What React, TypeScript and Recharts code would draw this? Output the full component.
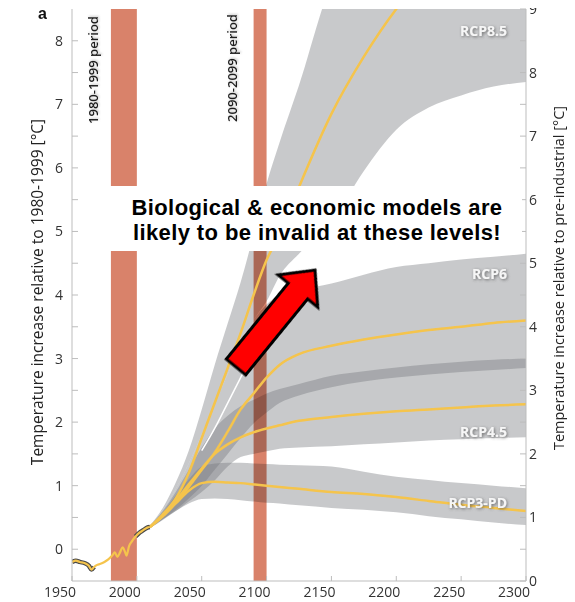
import React from 'react'
import {
  ComposedChart,
  Area,
  Line,
  XAxis,
  YAxis,
  ReferenceArea,
} from 'recharts'

// observed record, relative to 1980-1999
const histYears = [1950, 1953, 1956, 1960, 1963, 1965, 1967, 1969, 1972, 1975, 1978, 1981, 1983, 1985, 1987, 1989, 1991, 1992, 1994, 1996, 1999, 2002, 2005, 2008, 2010]
const histTemp = [-0.2, -0.18, -0.2, -0.22, -0.26, -0.32, -0.28, -0.25, -0.23, -0.2, -0.16, -0.1, -0.05, -0.12, -0.05, 0.03, -0.05, -0.1, 0.05, 0.12, 0.2, 0.26, 0.3, 0.34, 0.35]
const histEdge = [-0.2, -0.18, -0.2, -0.22, -0.26, -0.32, -0.28, null, null, null, null, null, null, null, null, null, null, null, null, null, 0.2, 0.26, 0.3, 0.34, 0.35]

// projections
const projYears = [2010, 2020, 2030, 2040, 2050, 2060, 2070, 2080, 2090, 2100, 2110, 2125, 2150, 2175, 2200, 2225, 2250, 2275, 2300]

const rcp3Mean = [0.35, 0.52, 0.72, 0.92, 1.04, 1.06, 1.05, 1.04, 1.02, 1.0, 0.98, 0.95, 0.9, 0.87, 0.82, 0.76, 0.7, 0.65, 0.6]
const rcp3Lo = [0.33, 0.47, 0.6, 0.72, 0.79, 0.8, 0.79, 0.77, 0.75, 0.73, 0.72, 0.69, 0.65, 0.62, 0.58, 0.52, 0.47, 0.42, 0.38]
const rcp3Hi = [0.37, 0.58, 0.85, 1.1, 1.3, 1.35, 1.36, 1.36, 1.35, 1.34, 1.33, 1.32, 1.3, 1.22, 1.14, 1.09, 1.04, 1.0, 0.96]

const rcp45Mean = [0.35, 0.53, 0.76, 1.02, 1.27, 1.5, 1.65, 1.76, 1.84, 1.9, 1.95, 2.02, 2.08, 2.13, 2.17, 2.2, 2.23, 2.26, 2.28]
const rcp45Lo = [0.33, 0.46, 0.6, 0.75, 0.9, 1.08, 1.3, 1.45, 1.5, 1.54, 1.58, 1.6, 1.62, 1.65, 1.68, 1.71, 1.73, 1.75, 1.76]
const rcp45Hi = [0.37, 0.6, 0.9, 1.25, 1.6, 1.9, 2.1, 2.25, 2.35, 2.45, 2.52, 2.6, 2.73, 2.8, 2.86, 2.91, 2.95, 2.98, 3.0]

const rcp6Mean = [0.35, 0.52, 0.74, 0.98, 1.25, 1.52, 1.85, 2.2, 2.45, 2.7, 2.9, 3.07, 3.2, 3.3, 3.38, 3.45, 3.5, 3.56, 3.6]
const rcp6Lo = [0.33, 0.47, 0.62, 0.8, 1.0, 1.25, 1.5, 1.75, 1.98, 2.15, 2.3, 2.42, 2.55, 2.64, 2.7, 2.75, 2.79, 2.82, 2.85]
const rcp6Hi = [0.37, 0.62, 0.95, 1.35, 1.8, 2.3, 2.75, 3.2, 3.6, 3.85, 4.0, 4.08, 4.18, 4.32, 4.44, 4.5, 4.56, 4.6, 4.65]

const rcp85Mean = [0.35, 0.55, 0.8, 1.2, 1.75, 2.3, 2.85, 3.4, 4.0, 4.55, 4.95, 5.7, 6.85, 7.75, 8.5, 9.1, null, null, null]
const rcp85Lo = [0.37, 0.62, 0.95, 1.35, 1.8, 2.3, 2.75, 3.2, 3.6, 3.9, 4.3, 4.65, 5.15, 5.95, 6.6, 6.95, 7.14, 7.28, 7.35]
const rcp85Hi = [0.37, 0.65, 1.05, 1.55, 2.2, 2.9, 3.55, 4.2, 4.95, 5.75, 6.4, 7.3, 8.9, 9.6, 9.6, 9.6, 9.6, 9.6, 9.6]

const whiteYears = [2050, 2060, 2070, 2080, 2090]
const whiteLine = [1.55, 1.9, 2.3, 2.7, 3.1]

const xTicks = [1950, 2000, 2050, 2100, 2150, 2200, 2250, 2300]
const leftTicks = [0, 0.5, 1, 1.5, 2, 2.5, 3, 3.5, 4, 4.5, 5, 5.5, 6, 6.5, 7, 7.5, 8]
const rightTicks = [0, 0.5, 1, 1.5, 2, 2.5, 3, 3.5, 4, 4.5, 5, 5.5, 6, 6.5, 7, 7.5, 8, 8.5, 9]

const histData = histYears.map((year, i) => ({ year, temp: histTemp[i], edge: histEdge[i] }))
const projData = projYears.map((year, i) => ({
  year,
  rcp3: [rcp3Lo[i], rcp3Hi[i]],
  rcp45: [rcp45Lo[i], rcp45Hi[i]],
  rcp6: [rcp6Lo[i], rcp6Hi[i]],
  rcp85: [rcp85Lo[i], rcp85Hi[i]],
  rcp3Mean: rcp3Mean[i],
  rcp45Mean: rcp45Mean[i],
  rcp6Mean: rcp6Mean[i],
  rcp85Mean: rcp85Mean[i],
}))
const whiteData = whiteYears.map((year, i) => ({ year, v: whiteLine[i] }))

const YELLOW = '#f5c44c'
const BAND = '#75787c'
const PERIOD = '#d9826a'
const FONT = '"Open Sans", sans-serif'

const tickStyle = { fontFamily: FONT, fontSize: 14, fill: '#333' }
const intOnly = (v: number) => (Number.isInteger(v) ? String(v) : '')

const bands = ['rcp3', 'rcp45', 'rcp6', 'rcp85']
const means = ['rcp3Mean', 'rcp45Mean', 'rcp6Mean', 'rcp85Mean']

const rcpLabels = [
  { text: 'RCP8.5', y: 22 },
  { text: 'RCP6', y: 265 },
  { text: 'RCP4.5', y: 423 },
  { text: 'RCP3-PD', y: 494 },
]

const W = 567
const H = 594

export default function App() {
  return (
    <div style={{ position: 'relative', width: W, height: H }}>
      <style>{`.period path, .period rect { mix-blend-mode: multiply; } .recharts-wrapper, .recharts-surface { overflow: visible !important; }`}</style>
      <ComposedChart width={W} height={H} margin={{ top: 1, right: 0, bottom: 0, left: 0 }}>
        <XAxis
          dataKey='year'
          type='number'
          domain={[1950, 2300]}
          ticks={xTicks}
          allowDataOverflow
          height={21}
          tickSize={-5}
          tickMargin={11}
          tick={{ ...tickStyle, dx: -12 }}
          stroke='#bdbdbd'
        />
        <YAxis
          yAxisId='left'
          type='number'
          domain={[-0.5, 8.5]}
          ticks={leftTicks}
          allowDataOverflow
          width={64}
          tickSize={-6}
          tickMargin={15}
          tickFormatter={intOnly}
          tick={tickStyle}
          stroke='#bdbdbd'
          interval={0}
        />
        <YAxis
          yAxisId='right'
          orientation='right'
          type='number'
          domain={[0, 9]}
          ticks={rightTicks}
          allowDataOverflow
          width={49}
          tickSize={-6}
          tickMargin={9}
          tickFormatter={intOnly}
          tick={{ ...tickStyle, textAnchor: 'start' }}
          stroke='#bdbdbd'
          interval={0}
        />

        {bands.map((key) => (
          <Area
            key={key}
            yAxisId='left'
            data={projData}
            dataKey={key}
            type='monotone'
            stroke='none'
            fill={BAND}
            fillOpacity={0.4}
            isAnimationActive={false}
            activeDot={false}
          />
        ))}

        <Line
          yAxisId='left'
          data={whiteData}
          dataKey='v'
          type='monotone'
          stroke='#ffffff'
          strokeWidth={1.5}
          dot={false}
          isAnimationActive={false}
        />

        {means.map((key) => (
          <Line
            key={key}
            yAxisId='left'
            data={projData}
            dataKey={key}
            type='monotone'
            stroke={YELLOW}
            strokeWidth={2.5}
            dot={false}
            isAnimationActive={false}
          />
        ))}

        <Line
          yAxisId='left'
          data={histData}
          dataKey='edge'
          type='monotone'
          stroke='#4a4a4a'
          strokeWidth={4.5}
          dot={false}
          isAnimationActive={false}
        />
        <Line
          yAxisId='left'
          data={histData}
          dataKey='temp'
          type='monotone'
          stroke={YELLOW}
          strokeWidth={2.2}
          dot={false}
          isAnimationActive={false}
        />

        <ReferenceArea
          yAxisId='left'
          x1={1980}
          x2={2000}
          y1={-0.5}
          y2={8.5}
          fill={PERIOD}
          fillOpacity={1}
          stroke='none'
          className='period'
          style={{ mixBlendMode: 'multiply' }}
          ifOverflow='hidden'
        />
        <ReferenceArea
          yAxisId='left'
          x1={2090}
          x2={2100}
          y1={-0.5}
          y2={8.5}
          fill={PERIOD}
          fillOpacity={1}
          stroke='none'
          className='period'
          style={{ mixBlendMode: 'multiply' }}
          ifOverflow='hidden'
        />
      </ComposedChart>

      <svg
        width={W}
        height={H}
        style={{ position: 'absolute', left: 0, top: 0, pointerEvents: 'none', overflow: 'visible' }}
      >
        <defs>
          <filter id='soft' x='-20%' y='-40%' width='140%' height='180%'>
            <feDropShadow dx='1' dy='1' stdDeviation='1.5' floodColor='#444' floodOpacity='0.7' />
          </filter>
          <filter id='faint' x='-20%' y='-40%' width='140%' height='180%'>
            <feDropShadow dx='1' dy='1' stdDeviation='1.2' floodColor='#888' floodOpacity='0.5' />
          </filter>
        </defs>

        <text x={30} y={11} fontFamily='"Liberation Sans", Arial, sans-serif' fontWeight={700} fontSize={16} fill='#111'>
          a
        </text>

        <text
          transform='translate(85,62) rotate(-90)'
          textAnchor='middle'
          dominantBaseline='central'
          fontFamily={FONT}
          fontWeight={600}
          fontSize={13}
          fill='#1a1a1a'
          filter='url(#faint)'
        >
          1980-1999 period
        </text>
        <text
          transform='translate(224,60) rotate(-90)'
          textAnchor='middle'
          dominantBaseline='central'
          fontFamily={FONT}
          fontWeight={600}
          fontSize={13}
          fill='#1a1a1a'
          filter='url(#faint)'
        >
          2090-2099 period
        </text>

        {rcpLabels.map((l) => (
          <text
            key={l.text}
            x={499}
            y={l.y}
            textAnchor='end'
            dominantBaseline='central'
            fontFamily={FONT}
            fontWeight={700}
            fontSize={14}
            fill='#f6f6f6'
            filter='url(#soft)'
          >
            {l.text}
          </text>
        ))}

        <text
          transform='translate(29,284) rotate(-90)'
          textAnchor='middle'
          dominantBaseline='central'
          fontFamily={FONT}
          fontSize={15.5}
          fill='#222'
        >
          Temperature increase relative to 1980-1999 [°C]
        </text>
        <text
          transform='translate(550,270) rotate(-90)'
          textAnchor='middle'
          dominantBaseline='central'
          fontFamily={FONT}
          fontSize={14.5}
          fill='#222'
        >
          Temperature increase relative to pre-industrial [°C]
        </text>

        <rect x={100} y={178} width={414} height={65} fill='#ffffff' />
        <text
          x={309}
          y={207}
          textAnchor='middle'
          fontFamily='"Liberation Sans", Arial, sans-serif'
          fontWeight={700}
          fontSize={22}
          letterSpacing={0.4}
          fill='#000'
        >
          Biological &amp; economic models are
        </text>
        <text
          x={309}
          y={232}
          textAnchor='middle'
          fontFamily='"Liberation Sans", Arial, sans-serif'
          fontWeight={700}
          fontSize={22}
          letterSpacing={0.4}
          fill='#000'
        >
          likely to be invalid at these levels!
        </text>

        <polygon
          transform='translate(228,359) rotate(-50.8)'
          points='0,-12.5 98,-12.5 98,-25.5 125,0 98,25.5 98,12.5 0,12.5'
          fill='#ff0000'
          stroke='#000'
          strokeWidth={3}
          strokeLinejoin='miter'
        />
      </svg>
    </div>
  )
}
